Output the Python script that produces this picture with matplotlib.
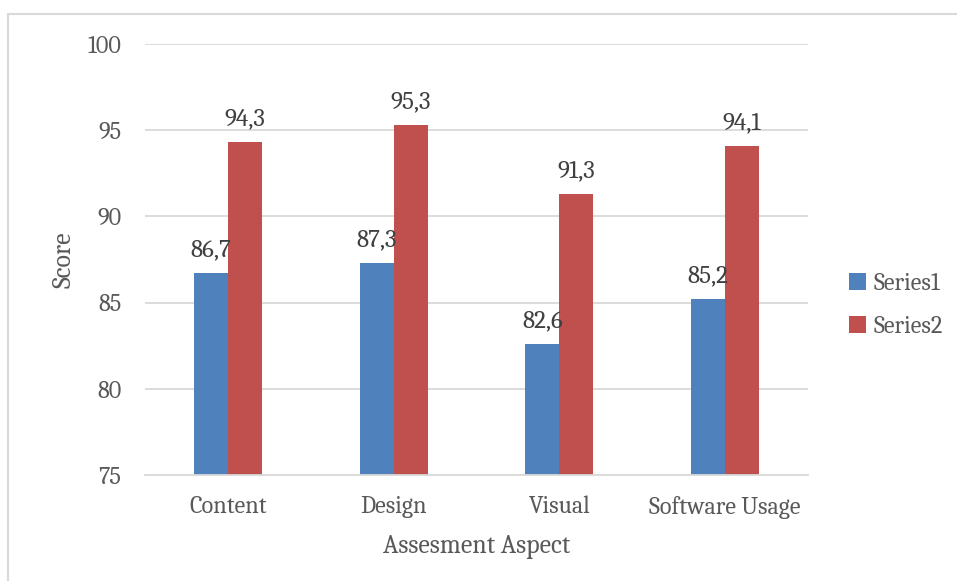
import matplotlib
matplotlib.use("Agg")
import matplotlib.pyplot as plt
import numpy as np
from matplotlib.patches import Rectangle
from matplotlib import font_manager as fm

categories = ["Content", "Design", "Visual", "Software Usage"]
series1 = [86.7, 87.3, 82.6, 85.2]
series2 = [94.3, 95.3, 91.3, 94.1]
series_names = ["Series1", "Series2"]
yticks = [75, 80, 85, 90, 95, 100]

BLUE = "#4F81BD"
RED = "#C0504D"
TXT = "#595959"
GRID = "#D9D9D9"

installed = {f.name for f in fm.fontManager.ttflist}
if "Caladea" in installed:
    plt.rcParams['font.family'] = ['Caladea', 'DejaVu Serif']
else:
    plt.rcParams['font.family'] = ['DejaVu Serif']
    plt.rcParams['font.stretch'] = 'condensed'
fs = 17.5

fig = plt.figure(figsize=(9.57, 5.81), dpi=100)
ax = fig.add_axes([145/957, 1-475/581, (808-145)/957, (475-44)/581])

x = np.arange(len(categories))
w = 0.205
b1 = ax.bar(x - w/2, np.array(series1) - 75, w, bottom=75, color=BLUE, label=series_names[0])
b2 = ax.bar(x + w/2, np.array(series2) - 75, w, bottom=75, color=RED, label=series_names[1])

for xi, v in zip(x - w/2, series1):
    ax.annotate(f"{v:.1f}".replace(".", ","), (xi, v), xytext=(0, 8.5), textcoords="offset points",
                ha="center", va="bottom", fontsize=fs + 0.5, color="#404040")
for xi, v in zip(x + w/2, series2):
    ax.annotate(f"{v:.1f}".replace(".", ","), (xi, v), xytext=(0, 8.5), textcoords="offset points",
                ha="center", va="bottom", fontsize=fs + 0.5, color="#404040")

ax.set_xlim(-0.5, len(categories) - 0.5)
ax.set_ylim(75, 100)
ax.set_yticks(yticks)
ax.set_yticklabels([str(t) for t in yticks])
ax.set_xticks(x)
ax.set_xticklabels(categories)
ax.tick_params(axis='both', length=0, labelsize=fs, colors=TXT)
ax.tick_params(axis='y', pad=17)
ax.tick_params(axis='x', pad=15)
ax.yaxis.grid(True, color=GRID, linewidth=1.3)
ax.set_axisbelow(True)
for s in ["top", "right", "left"]:
    ax.spines[s].set_visible(False)
ax.spines["bottom"].set_color(GRID)
ax.spines["bottom"].set_linewidth(1.3)

ax.set_ylabel("Score", fontsize=fs + 1, color=TXT, labelpad=8)
ax.set_xlabel("Assesment Aspect", fontsize=fs + 1, color=TXT, labelpad=11)

leg = fig.legend(handles=[b1, b2], labels=series_names, loc="center left",
                 bbox_to_anchor=(827/957, 1-305/581), frameon=False, fontsize=fs,
                 handlelength=0.7, handleheight=0.7, handletextpad=0.3, labelspacing=0.85,
                 labelcolor=TXT)

fig.patches.append(Rectangle((8/957, -0.05), 1.0, 1-14/581 + 0.05, transform=fig.transFigure,
                             fill=False, edgecolor=GRID, linewidth=1.5))

fig.savefig("out.png", dpi=100)
